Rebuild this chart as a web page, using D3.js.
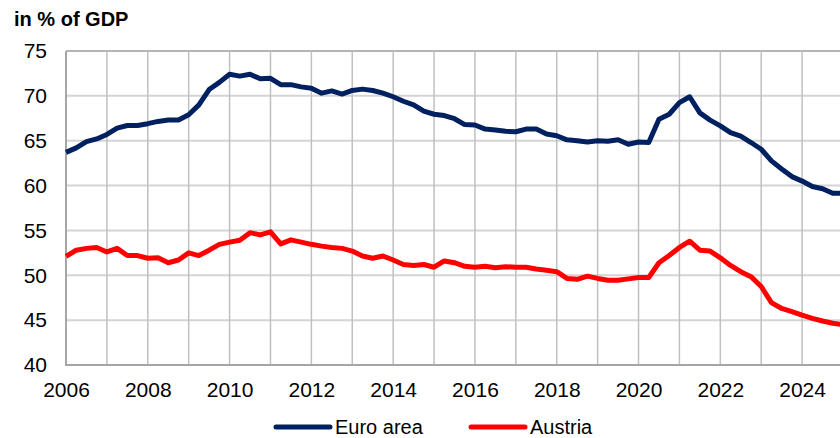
<!DOCTYPE html>
<html>
<head>
<meta charset="utf-8">
<script src="https://cdn.jsdelivr.net/npm/d3@7"></script>
<style>
  body { margin: 0; background: #fff; }
  text { font-family: "Liberation Sans", Arial, sans-serif; }
</style>
</head>
<body>
<script>
// Debt ratios, quarterly, 2006Q1 .. 2025Q1
var startYear = 2006;
var euroArea = [
  63.7, 64.2, 64.9, 65.2, 65.7, 66.4, 66.7, 66.7,
  66.9, 67.15, 67.3, 67.3, 67.9, 69.0, 70.7, 71.5,
  72.4, 72.2, 72.4, 71.9, 71.95, 71.25, 71.25, 71.0,
  70.85, 70.3, 70.55, 70.2, 70.6, 70.75, 70.6, 70.3,
  69.9, 69.4, 69.0, 68.3, 67.95, 67.8, 67.45, 66.8,
  66.75, 66.3, 66.2, 66.05, 66.0, 66.3, 66.3, 65.75,
  65.55, 65.1, 65.0, 64.85, 65.0, 64.95, 65.1, 64.6,
  64.85, 64.8, 67.4, 67.95, 69.25, 69.9, 68.1, 67.3,
  66.65, 65.9, 65.5, 64.8, 64.05, 62.75, 61.85, 61.0,
  60.5, 59.9, 59.65, 59.15, 59.15
];
var austria = [
  52.1, 52.8, 53.0, 53.1, 52.6, 53.0, 52.2, 52.2,
  51.9, 51.95, 51.4, 51.7, 52.5, 52.2, 52.8, 53.45,
  53.7, 53.9, 54.75, 54.5, 54.85, 53.5, 53.95, 53.7,
  53.45, 53.25, 53.1, 53.0, 52.7, 52.15, 51.9, 52.15,
  51.7, 51.2, 51.1, 51.2, 50.9, 51.6, 51.4, 51.0,
  50.9, 51.0, 50.85, 50.95, 50.9, 50.9, 50.7, 50.55,
  50.4, 49.65, 49.55, 49.9, 49.65, 49.45, 49.45, 49.6,
  49.75, 49.75, 51.4, 52.2, 53.1, 53.8, 52.8, 52.7,
  51.95, 51.1, 50.4, 49.85, 48.75, 46.95, 46.3, 45.95,
  45.55, 45.2, 44.9, 44.65, 44.5
];
var yTicks = [40, 45, 50, 55, 60, 65, 70, 75];
var yearLabels = [2006, 2008, 2010, 2012, 2014, 2016, 2018, 2020, 2022, 2024];
var seriesNames = ["Euro area", "Austria"];
var seriesColors = ["#002060", "#ff0000"];

var W = 840, H = 438;
var plotLeft = 66, plotTop = 51, plotBottom = 365, plotRight = 843;

var svg = d3.select("body").append("svg")
    .attr("width", W)
    .attr("height", H);

var x = d3.scaleLinear().domain([2006, 2025]).range([plotLeft, plotRight]);
var y = d3.scaleLinear().domain([40, 75]).range([plotBottom, plotTop]);

var t = euroArea.map(function(d, i) { return startYear + i / 4; });

// horizontal grid
svg.append("g")
  .selectAll("line")
  .data(yTicks)
  .enter().append("line")
    .attr("x1", plotLeft).attr("x2", W)
    .attr("y1", function(d) { return y(d); })
    .attr("y2", function(d) { return y(d); })
    .attr("stroke", function(d) { return d == 75 ? "#b4b4b4" : "#d4d4d4"; })
    .attr("stroke-width", 2);

// vertical grid (every year)
svg.append("g")
  .selectAll("line")
  .data(d3.range(2007, 2026))
  .enter().append("line")
    .attr("x1", function(d) { return x(d); })
    .attr("x2", function(d) { return x(d); })
    .attr("y1", plotTop).attr("y2", plotBottom)
    .attr("stroke", "#c0c0c0")
    .attr("stroke-width", 1.5);

// axes
var xAxis = svg.append("g")
  .attr("transform", "translate(0," + plotBottom + ")")
  .call(d3.axisBottom(x).tickValues(yearLabels).tickFormat(d3.format("d")).tickSize(0).tickPadding(17));
xAxis.select(".domain").remove();
xAxis.selectAll("text").attr("font-size", 21).attr("fill", "#000")
  .style("font-family", "Liberation Sans, Arial, sans-serif");

var yAxis = svg.append("g")
  .attr("transform", "translate(" + (plotLeft - 19) + ",0)")
  .call(d3.axisLeft(y).tickValues(yTicks).tickSize(0).tickPadding(0));
yAxis.select(".domain").remove();
yAxis.selectAll("text").attr("font-size", 21).attr("fill", "#000")
  .style("font-family", "Liberation Sans, Arial, sans-serif");

svg.append("line")
  .attr("x1", plotLeft).attr("x2", plotLeft).attr("y1", plotTop).attr("y2", plotBottom + 1)
  .attr("stroke", "#a6a6a6").attr("stroke-width", 2);
svg.append("line")
  .attr("x1", plotLeft - 1).attr("x2", W).attr("y1", plotBottom).attr("y2", plotBottom)
  .attr("stroke", "#a6a6a6").attr("stroke-width", 2);

// lines
var line = d3.line()
  .x(function(d, i) { return x(t[i]); })
  .y(function(d) { return y(d); });

[euroArea, austria].forEach(function(s, k) {
  svg.append("path")
    .datum(s)
    .attr("d", line)
    .attr("fill", "none")
    .attr("stroke", seriesColors[k])
    .attr("stroke-width", 5)
    .attr("stroke-linejoin", "round");
});

// title
svg.append("text")
  .attr("x", 14).attr("y", 26)
  .attr("font-size", 20).attr("font-weight", "bold")
  .text("in % of GDP");

// legend
var legX = [276, 471];
seriesNames.forEach(function(n, k) {
  var g = svg.append("g").attr("transform", "translate(" + legX[k] + ",427)");
  g.append("line")
    .attr("x1", 0).attr("x2", 54)
    .attr("stroke", seriesColors[k]).attr("stroke-width", 5)
    .attr("stroke-linecap", "round");
  g.append("text")
    .attr("x", 59).attr("y", 7)
    .attr("font-size", 20)
    .text(n);
});
</script>
</body>
</html>
